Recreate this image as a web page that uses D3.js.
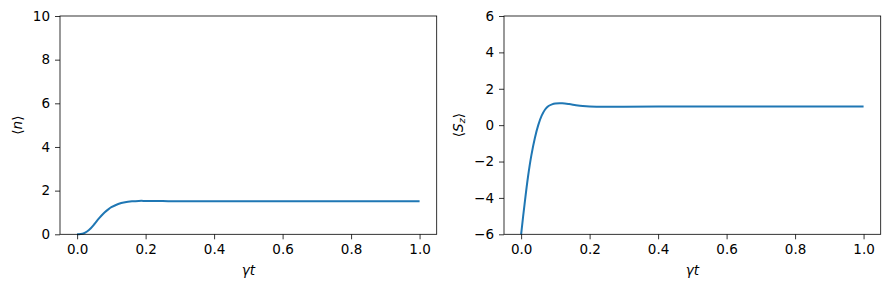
<!DOCTYPE html>
<html>
<head>
<meta charset="utf-8">
<script src="https://cdn.jsdelivr.net/npm/d3@7"></script>
<style>
  body { margin: 0; background: #fff; }
  svg text { font-family: "DejaVu Sans", sans-serif; fill: #000; }
  .axis path, .axis line { stroke: #000; stroke-width: 0.8px; }
  .axis text { font-size: 13.5px; }
</style>
</head>
<body>
<div id="chart"></div>
<script>
// photon number <n> vs gamma*t
const tN = [0, 0.01, 0.02, 0.03, 0.04, 0.05, 0.06, 0.07, 0.08, 0.09, 0.10, 0.12, 0.14, 0.16, 0.18, 0.20, 0.25, 0.30, 0.40, 0.60, 0.80, 1.0]
const nValues = [0, 0.01, 0.05, 0.14, 0.28, 0.46, 0.66, 0.84, 1.00, 1.13, 1.24, 1.39, 1.47, 1.51, 1.53, 1.53, 1.52, 1.515, 1.51, 1.51, 1.51, 1.51]

// spin <Sz> vs gamma*t
const tS = [0, 0.01, 0.02, 0.03, 0.04, 0.05, 0.06, 0.07, 0.08, 0.09, 0.10, 0.12, 0.14, 0.16, 0.18, 0.20, 0.22, 0.25, 0.30, 0.40, 0.60, 0.80, 1.0]
const szValues = [-6, -4.35, -2.85, -1.65, -0.72, 0.0, 0.52, 0.86, 1.05, 1.14, 1.19, 1.20, 1.16, 1.10, 1.05, 1.02, 1.01, 1.01, 1.015, 1.02, 1.02, 1.02, 1.02]

const xTicks = [0, 0.2, 0.4, 0.6, 0.8, 1.0]
const nTicks = [0, 2, 4, 6, 8, 10]
const szTicks = [-6, -4, -2, 0, 2, 4, 6]

const W = 889, H = 290
const svg = d3.select("#chart").append("svg")
  .attr("width", W).attr("height", H)

function panel(left, right, top, bottom, xs, ys, yDomain, yTicks, labelX, yLabel) {
  let x = d3.scaleLinear().domain([-0.05, 1.05]).range([left, right])
  let y = d3.scaleLinear().domain(yDomain).range([bottom, top])

  let g = svg.append("g")

  g.append("path")
    .datum(xs.map((t, i) => [t, ys[i]]))
    .attr("fill", "none")
    .attr("stroke", "#1f77b4")
    .attr("stroke-width", 2)
    .attr("stroke-linejoin", "round")
    .attr("d", d3.line().x(d => x(d[0])).y(d => y(d[1])).curve(d3.curveCatmullRom.alpha(0.5)))

  // frame
  g.append("rect")
    .attr("x", left).attr("y", top)
    .attr("width", right - left).attr("height", bottom - top)
    .attr("fill", "none").attr("stroke", "#000").attr("stroke-width", 0.8)

  g.append("g").attr("class", "axis")
    .attr("transform", "translate(0," + bottom + ")")
    .call(d3.axisBottom(x).tickValues(xTicks).tickFormat(d3.format(".1f")).tickSize(5).tickPadding(5).tickSizeOuter(0))
    .call(a => a.select(".domain").remove())

  g.append("g").attr("class", "axis")
    .attr("transform", "translate(" + left + ",0)")
    .call(d3.axisLeft(y).tickValues(yTicks).tickFormat(d => d < 0 ? "\u2212" + Math.abs(d) : d).tickSize(5).tickPadding(5).tickSizeOuter(0))
    .call(a => a.select(".domain").remove())

  // x label: gamma t
  g.append("text")
    .attr("x", (left + right) / 2).attr("y", 275)
    .attr("text-anchor", "middle")
    .style("font-size", "13.5px").style("font-style", "italic")
    .text("\u03b3t")

  // y label
  let yl = g.append("text")
    .attr("transform", "translate(" + labelX + "," + ((top + bottom) / 2) + ") rotate(-90)")
    .attr("text-anchor", "middle")
    .attr("dy", "0.35em")
    .style("font-size", "13.5px")
  yLabel(yl)
}

panel(60, 436.7, 16, 234.3, tN, nValues, [0, 10], nTicks, 17, t => {
  t.append("tspan").text("\u27e8")
  t.append("tspan").style("font-style", "italic").text("n")
  t.append("tspan").text("\u27e9")
})

panel(504, 880.7, 16, 234.3, tS, szValues, [-6, 6], szTicks, 458, t => {
  t.append("tspan").text("\u27e8")
  t.append("tspan").style("font-style", "italic").text("S")
  t.append("tspan").style("font-style", "italic").style("font-size", "9.5px").attr("dy", 2).text("z")
  t.append("tspan").attr("dy", -2).text("\u27e9")
})
</script>
</body>
</html>
